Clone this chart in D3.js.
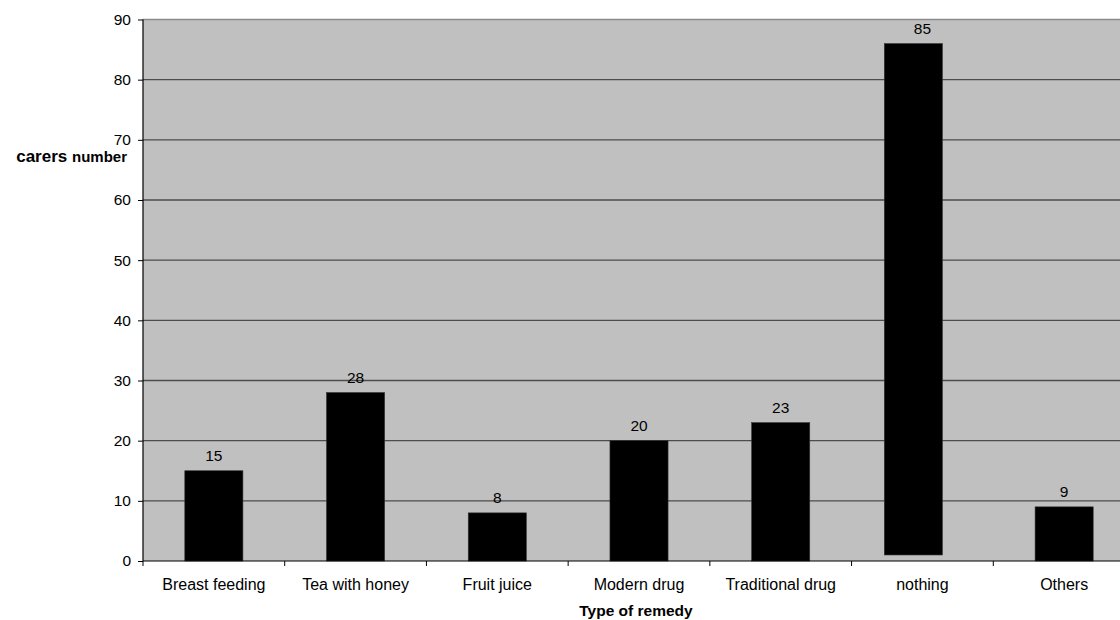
<!DOCTYPE html>
<html>
<head>
<meta charset="utf-8">
<script src="https://cdn.jsdelivr.net/npm/d3@7/dist/d3.min.js"></script>
<style>
  html, body { margin: 0; padding: 0; background: #fff; }
  svg { display: block; font-family: "Liberation Sans", Arial, sans-serif; }
</style>
</head>
<body>
<svg id="chart" width="1120" height="620"></svg>
<script>
// Remedies given by carers
const categories = ["Breast feeding", "Tea with honey", "Fruit juice", "Modern drug", "Traditional drug", "nothing", "Others"];
const counts = [15, 28, 8, 20, 23, 85, 9];
// the "nothing" column sits slightly above the baseline
const baseOffsets = [0, 0, 0, 0, 0, 1, 0];
const yTicks = [0, 10, 20, 30, 40, 50, 60, 70, 80, 90];

(function draw() {
  const svg = d3.select("#chart");
  const plotLeft = 143, plotTop = 19.5, plotW = 992, plotBottom = 561;
  const FONT = "Liberation Sans, Arial, sans-serif";

  const x = d3.scaleBand().domain(categories).range([plotLeft, plotLeft + plotW]).paddingInner(0).paddingOuter(0);
  const y = d3.scaleLinear().domain([0, 90]).range([plotBottom, plotTop]);

  const barW = x.bandwidth() * 0.41;
  // horizontal nudge (in band widths) for the odd column out
  const nudge = c => (c === "nothing" ? -0.064 : 0) * x.bandwidth();

  // plot background
  svg.append("rect")
    .attr("x", plotLeft).attr("y", plotTop)
    .attr("width", plotW).attr("height", plotBottom - plotTop)
    .attr("fill", "#c0c0c0");

  // gridlines
  svg.append("g").selectAll("line")
    .data(yTicks.filter(d => d > 0))
    .join("line")
    .attr("x1", plotLeft).attr("x2", plotLeft + plotW)
    .attr("y1", d => y(d)).attr("y2", d => y(d))
    .attr("stroke", d => d === 90 ? "#8a8a8a" : "#4d4d4d")
    .attr("stroke-width", 1.3);

  // bars
  const data = categories.map((c, i) => ({ c, v: counts[i], b: baseOffsets[i] }));
  svg.append("g").selectAll("rect")
    .data(data)
    .join("rect")
    .attr("x", d => x(d.c) + (x.bandwidth() - barW) / 2 + nudge(d.c))
    .attr("y", d => y(d.b + d.v))
    .attr("width", barW)
    .attr("height", d => y(d.b) - y(d.b + d.v))
    .attr("fill", "#000")
    .attr("stroke", "#333")
    .attr("stroke-width", 0.6);

  // value labels
  svg.append("g").selectAll("text")
    .data(data)
    .join("text")
    .attr("x", d => x(d.c) + x.bandwidth() / 2)
    .attr("y", d => y(d.b + d.v) - 10)
    .attr("text-anchor", "middle")
    .attr("font-size", 15.5)
    .attr("font-family", FONT)
    .attr("fill", "#000")
    .text(d => d.v);

  // y axis
  const yAxis = d3.axisLeft(y).tickValues(yTicks).tickSize(5).tickPadding(7);
  const gy = svg.append("g").attr("transform", `translate(${plotLeft},0)`).call(yAxis);
  gy.select(".domain").attr("stroke", "#000").attr("stroke-width", 1.2).attr("d", `M0,${plotBottom}V${plotTop}`);
  gy.selectAll(".tick line").attr("stroke", "#000");
  gy.selectAll(".tick text").attr("font-size", 15.5).attr("font-family", FONT).attr("fill", "#000");

  // x axis
  const xAxis = d3.axisBottom(x).tickSize(0).tickPadding(18);
  const gx = svg.append("g").attr("transform", `translate(0,${plotBottom})`).call(xAxis);
  gx.select(".domain").attr("stroke", "#000").attr("stroke-width", 1.2).attr("d", `M${plotLeft},0H${plotLeft + plotW}`);
  gx.selectAll(".tick text").attr("font-size", 16).attr("font-family", FONT).attr("fill", "#000");

  // category boundary ticks
  svg.append("g").selectAll("line")
    .data(categories)
    .join("line")
    .attr("x1", d => x(d)).attr("x2", d => x(d))
    .attr("y1", plotBottom).attr("y2", plotBottom + 5)
    .attr("stroke", "#000");

  // axis titles
  const yt = svg.append("text")
    .attr("x", 127).attr("y", 162)
    .attr("text-anchor", "end")
    .attr("font-weight", "bold")
    .attr("font-family", FONT)
    .attr("fill", "#000");
  yt.append("tspan").attr("font-size", 17).text("carers ");
  yt.append("tspan").attr("font-size", 15).text("number");

  svg.append("text")
    .attr("x", plotLeft + plotW / 2 - 3).attr("y", 615.5)
    .attr("text-anchor", "middle")
    .attr("font-size", 15.5)
    .attr("font-weight", "bold")
    .attr("font-family", FONT)
    .attr("fill", "#000")
    .text("Type of remedy");
})();
</script>
</body>
</html>
